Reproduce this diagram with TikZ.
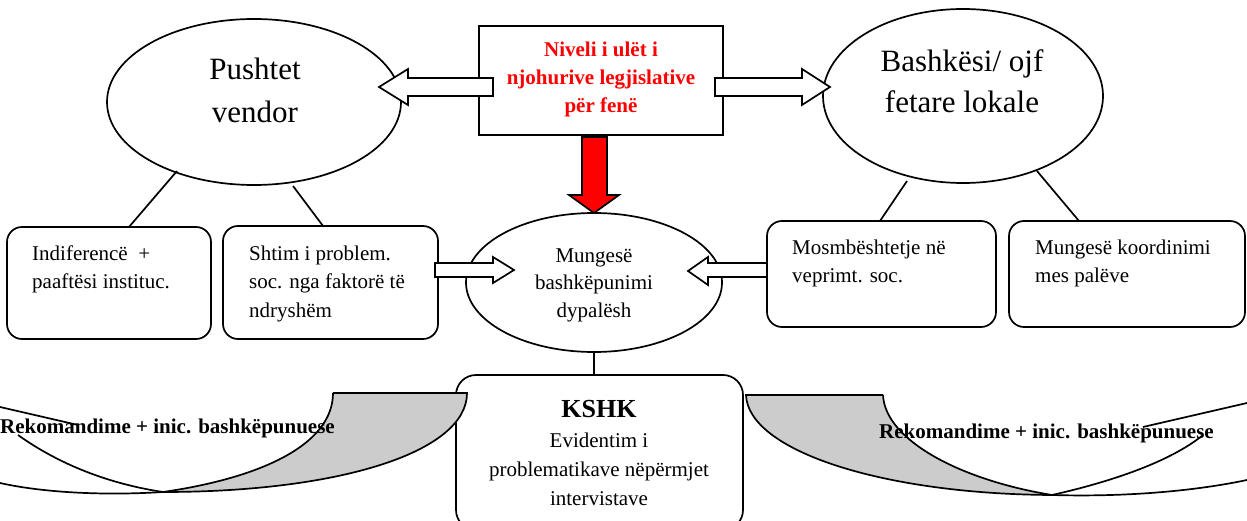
\documentclass[tikz,border=0pt]{standalone}
\usepackage{fontspec}
\setmainfont{Liberation Serif}
\usetikzlibrary{shapes.geometric}
\definecolor{greyfill}{RGB}{204,204,204}
\definecolor{pure red}{RGB}{255,0,0}
\tikzset{
  line/.style={line width=1.7pt, draw=black},
  oval/.style={ellipse, line, inner sep=0pt, fill=white},
  rbox/.style={rectangle, line, rounded corners=15pt, fill=white, inner sep=0pt},
  sbox/.style={rectangle, line, fill=white, inner sep=0pt},
  blockarrow/.style={line, fill=white, line join=miter},
  redarrow/.style={line, fill=pure red, line join=miter},
  ribbonfill/.style={fill=greyfill},
  curve/.style={line},
  txt/.style={inner sep=0pt, font=\fontsize{21}{28}\selectfont},
  bigtxt/.style={inner sep=0pt, align=center, font=\fontsize{31}{42}\selectfont},
  redtxt/.style={inner sep=0pt, align=center, text=pure red, font=\fontsize{21}{28}\selectfont\bfseries},
  boldtxt/.style={inner sep=0pt, font=\fontsize{21}{28}\selectfont\bfseries},
}
\begin{document}
\begin{tikzpicture}[x=1pt,y=-1pt]
\useasboundingbox (0,0) rectangle (1247,521);

% ---- top row (anchor=base = baseline of the last line)
\node[oval, minimum width=294pt, minimum height=166pt] (pv) at (254,102) {};
\node[bigtxt, anchor=base, font=\fontsize{31}{43}\selectfont] (pvt) at (255,123) {Pushtet\\vendor};
\node[oval, minimum width=280pt, minimum height=174pt] (bf) at (963,96) {};
\node[bigtxt, anchor=base, font=\fontsize{31}{41}\selectfont] (bft) at (962,113) {Bashkësi/ ojf\\fetare lokale};
\node[sbox, minimum width=244pt, minimum height=109pt] (top) at (601,80.5) {};
\node[redtxt, anchor=base] (topt) at (601,113) {Niveli i ulët i\\njohurive legjislative\\për fenë};

% hollow arrows from the top box
\draw[blockarrow] (493,78) -- (408,78) -- (408,69) -- (379,87) -- (408,105) -- (408,96) -- (493,96) -- cycle;
\draw[blockarrow] (715,78) -- (802,78) -- (802,69) -- (830,87) -- (802,105) -- (802,96) -- (715,96) -- cycle;

% ---- middle row
\node[rbox, minimum width=204pt, minimum height=112pt] (ba) at (109,283) {};
\node[txt, align=left, anchor=base west] (bat) at (32,288) {Indiferencë\ \ +\\paaftësi instituc.};
\node[rbox, minimum width=215pt, minimum height=113pt] (bb) at (330.5,282.5) {};
\node[txt, align=left, anchor=base west, font=\fontsize{21}{28.5}\selectfont] (bbt) at (249,317) {Shtim i problem.\\soc. nga faktorë të\\ndryshëm};
\node[rbox, minimum width=229pt, minimum height=106pt] (bc) at (881.5,274) {};
\node[txt, align=left, anchor=base west] (bct) at (792,283) {Mosmbështetje në\\veprimt. soc.};
\node[rbox, minimum width=236pt, minimum height=106pt] (bd) at (1127,274) {};
\node[txt, align=left, anchor=base west] (bdt) at (1035,283) {Mungesë koordinimi\\mes palëve};

\node[oval, minimum width=256pt, minimum height=139pt] (me) at (594,282.5) {};
\node[txt, align=center, anchor=base, font=\fontsize{21}{27.5}\selectfont] (met) at (594,317) {Mungesë\\bashkëpunimi\\dypalësh};

% connectors ellipse -> boxes
\coordinate (pv1) at (177,171); \coordinate (ba1) at (129,227);
\coordinate (pv2) at (293,186); \coordinate (bb1) at (323,226);
\coordinate (bf1) at (907,181); \coordinate (bc1) at (880,221);
\coordinate (bf2) at (1037,171); \coordinate (bd1) at (1079,221);
\draw[line] (pv1) -- (ba1);
\draw[line] (pv2) -- (bb1);
\draw[line] (bf1) -- (bc1);
\draw[line] (bf2) -- (bd1);

% red arrow
\draw[redarrow] (582,137) -- (607,137) -- (607,195) -- (619,195) -- (594,213) -- (569,195) -- (582,195) -- cycle;

% side hollow arrows into the middle ellipse
\draw[blockarrow] (435,263) -- (493,263) -- (493,257) -- (514,270) -- (493,283) -- (493,277) -- (435,277) -- cycle;
\draw[blockarrow] (767,263) -- (708,263) -- (708,257) -- (688,271) -- (708,285) -- (708,277) -- (767,277) -- cycle;

% ---- bottom
\node[rbox, rounded corners=20pt, minimum width=287pt, minimum height=155pt] (k) at (599.5,452.5) {};
\draw[line] (me.south) -- (me.south |- k.north);
\node[inner sep=0pt, anchor=base, font=\fontsize{26}{30}\selectfont\bfseries] (kt) at (599,417) {KSHK};
\node[txt, align=center, anchor=base, font=\fontsize{21}{29}\selectfont] (kt2) at (599,505) {Evidentim i\\problematikave nëpërmjet\\intervistave};

% left ribbon
\fill[ribbonfill] (333,393) -- (467,393) .. controls (467,452) and (340,492) .. (163,492) .. controls (260,478) and (333,445) .. (333,393) -- cycle;
\draw[curve] (333,393) -- (467,393) .. controls (467,452) and (340,492) .. (163,492) .. controls (100,496) and (40,492) .. (0,483);
\draw[curve] (333,393) .. controls (333,445) and (260,478) .. (163,492);
\draw[curve] (18,435) .. controls (60,465) and (110,484) .. (163,492);
\draw[curve] (0,407) -- (78,425);
\node[boldtxt, anchor=base west] (rl) at (0,433) {Rekomandime + inic. bashkëpunuese};

% right ribbon
\fill[ribbonfill] (746,395) -- (883,395) .. controls (885,440) and (960,480) .. (1052,495) .. controls (880,494) and (748,450) .. (746,395) -- cycle;
\draw[curve] (883,395) -- (746,395) .. controls (748,450) and (880,494) .. (1052,495) .. controls (1120,497) and (1190,492) .. (1247,480);
\draw[curve] (883,395) .. controls (885,440) and (960,480) .. (1052,495);
\draw[curve] (1052,495) .. controls (1110,482) and (1170,462) .. (1203,435);
\draw[curve] (1143,427) -- (1247,403);
\node[boldtxt, anchor=base west] (rr) at (879,438) {Rekomandime + inic. bashkëpunuese};
\end{tikzpicture}
\end{document}
